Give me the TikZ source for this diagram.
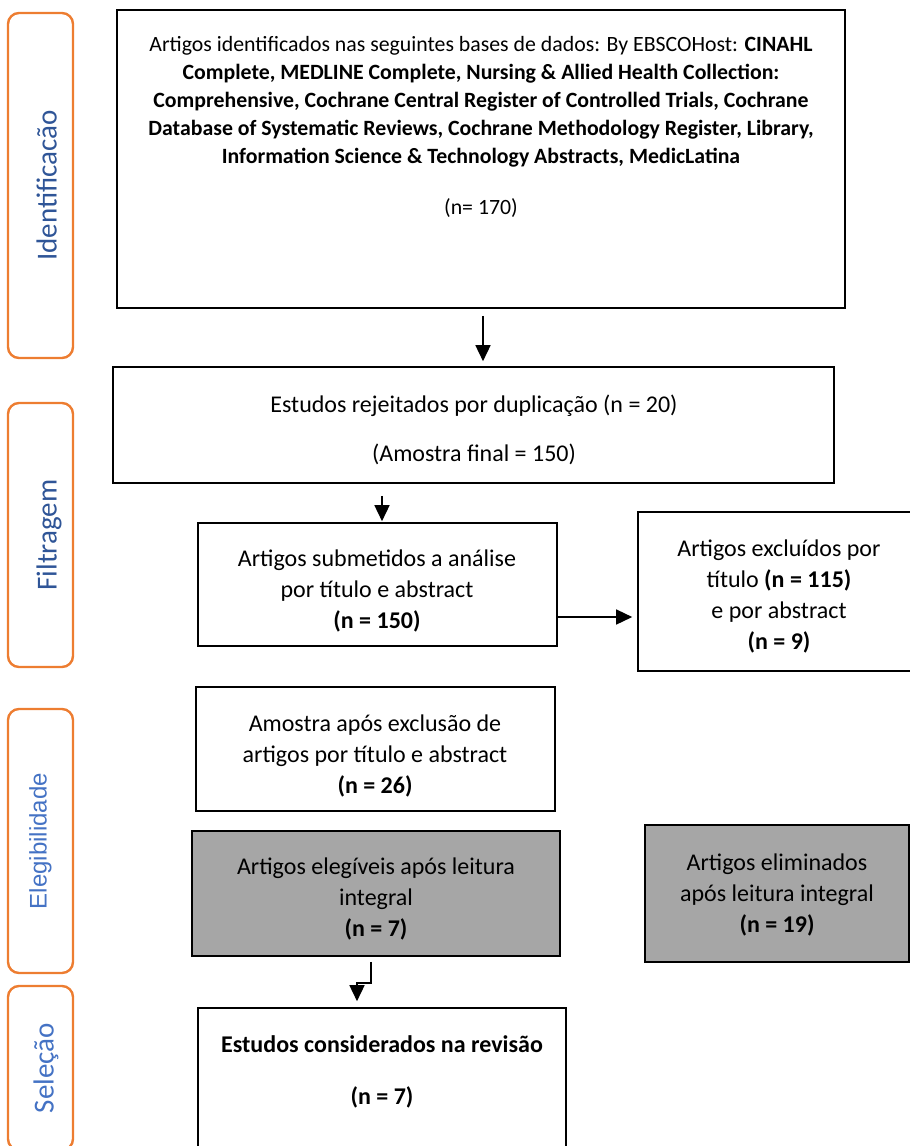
\documentclass[tikz,border=0pt]{standalone}
\usepackage{fontspec}
\setmainfont{Carlito}
\newfontfamily\arialfont{Liberation Sans}
\usepackage{xcolor}
\usepackage{tikz}
\usetikzlibrary{shapes,arrows}
\usetikzlibrary{positioning}
\usetikzlibrary{calc}
\usetikzlibrary{arrows.meta}
\tikzset{>=stealth}
\tikzstyle{line} = [draw, line width=1.5pt, -{Triangle[length=16pt,width=15pt]}]
\definecolor{phaseorange}{RGB}{237,125,49}
\definecolor{darkblue}{RGB}{47,85,151}
\definecolor{lightblue}{RGB}{68,114,196}
\definecolor{boxgray}{RGB}{166,166,166}

\begin{document}
\begin{tikzpicture}[
  x=1pt, y=-1pt,
  box/.style={draw, rectangle, line width=1.6pt, inner sep=0pt},
  txt/.style={align=center, inner sep=0pt, font=\fontsize{24}{31}\selectfont},
  phase/.style={draw=phaseorange, line width=2.4pt, rounded corners=11pt,
    rectangle, rotate=90, minimum height=65pt, inner sep=0pt,
    font=\fontsize{29}{36}\selectfont}]
  \clip (0,0) rectangle (910,1146);
  %% Phases
  \node [phase, text=darkblue, text height=36pt, text depth=4pt, minimum width=345pt] at (40.5,185.5) (P1) {Identificacão};
  \node [phase, text=darkblue, text height=36pt, text depth=4pt, minimum width=264pt] at (40.5,535) (P2) {Filtragem};
  \node [phase, text=lightblue, minimum width=264pt, font=\arialfont\fontsize{24}{30}\selectfont] at (40.5,841) (P3) {Elegibilidade};
  \node [phase, text=lightblue, text height=30pt, text depth=4pt, minimum width=164pt] at (40.5,1068) (P4) {Seleção};
  %% Boxes
  \node [box, minimum width=728pt, minimum height=298pt] at (481,159) (ident) {};
  \node [box, minimum width=721pt, minimum height=116pt] at (473.5,425) (dup) {};
  \node [box, minimum width=359pt, minimum height=123pt] at (377.5,584.5) (sub) {};
  \node [box, minimum width=282pt, minimum height=159pt] at (779,591.5) (excl) {};
  \node [box, minimum width=359pt, minimum height=124pt] at (375.5,749) (amostra) {};
  \node [box, fill=boxgray, minimum width=368pt, minimum height=125pt] at (376,893.5) (eleg) {};
  \node [box, fill=boxgray, minimum width=264pt, minimum height=137pt] at (777,893.5) (elim) {};
  \node [box, minimum width=368pt, minimum height=152pt] at (382,1084) (final) {};
  %% Texts
  \node [txt, font=\fontsize{21.8}{28}\selectfont] at (481,127) (identtxt) {Artigos identificados nas seguintes bases de dados: By EBSCOHost: \textbf{CINAHL}\\
    \textbf{Complete, MEDLINE Complete, Nursing \& Allied Health Collection:}\\
    \textbf{Comprehensive, Cochrane Central Register of Controlled Trials, Cochrane}\\
    \textbf{Database of Systematic Reviews, Cochrane Methodology Register, Library,}\\
    \textbf{Information Science \& Technology Abstracts, MedicLatina}\\[23pt]
    (n= 170)};
  \node [txt] at (474,430) (duptxt) {Estudos rejeitados por duplicação (n = 20)\\[18pt](Amostra final = 150)};
  \node [txt] at (377,591) (subtxt) {Artigos submetidos a análise\\por título e abstract\\\textbf{(n = 150)}};
  \node [txt] at (779,596) (excltxt) {Artigos excluídos por\\título \textbf{(n = 115)}\\e por abstract\\\textbf{(n = 9)}};
  \node [txt] at (375,756) (amostratxt) {Amostra após exclusão de\\artigos por título e abstract\\\textbf{(n = 26)}};
  \node [txt] at (376,899) (elegtxt) {Artigos elegíveis após leitura\\integral\\\textbf{(n = 7)}};
  \node [txt] at (777,895) (elimtxt) {Artigos eliminados\\após leitura integral\\\textbf{(n = 19)}};
  \node [txt] at (382,1072) (finaltxt) {\textbf{Estudos considerados na revisão}\\[21pt]\textbf{(n = 7)}};
  %% Flows
  \path [line, shorten <=7pt, shorten >=5pt] ([xshift=2pt]ident.south) -- ([xshift=2pt]ident.south |- dup.north);
  \path [line, shorten <=12pt, shorten >=1pt] ([xshift=4.5pt]sub.north |- dup.south) -- ([xshift=4.5pt]sub.north);
  \path [line, shorten >=5pt] ([yshift=-32.5pt]sub.east) -- ([yshift=-32.5pt]sub.east -| excl.west);
  \path [line, shorten <=5pt, shorten >=6pt] ([xshift=-5pt]eleg.south) -- ++(0,26) -- ++(-14,0) -- ([xshift=-25pt]final.north);
\end{tikzpicture}
\end{document}
